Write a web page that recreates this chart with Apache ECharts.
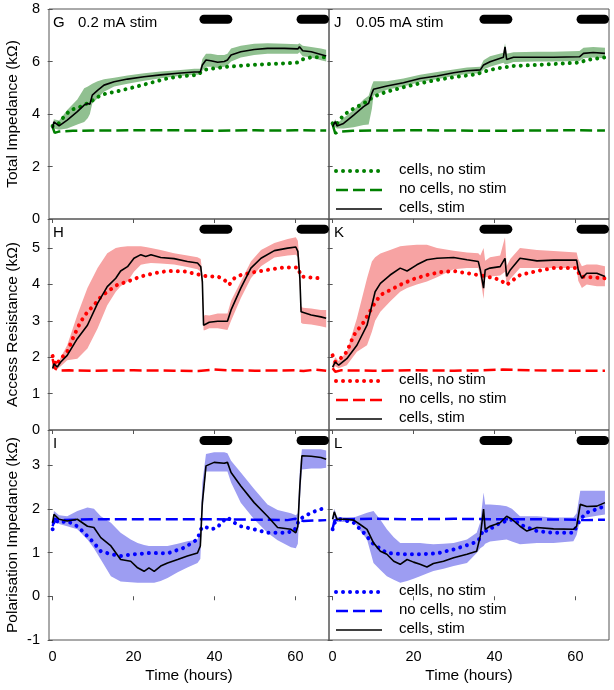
<!DOCTYPE html>
<html>
<head>
<meta charset="utf-8">
<script src="https://cdn.jsdelivr.net/npm/echarts@6/dist/echarts.min.js"></script>
<style>html,body{margin:0;padding:0;background:#fff}#c{width:614px;height:690px}</style>
</head>
<body>
<div id="c"></div>
<script>
// ---------- data ----------
const xTicks = [0, 20, 40, 60];
const stimStarts = [37.4, 61.4];
const stimEnds = [43.3, 67.2];
const legendNames = ['cells, no stim', 'no cells, no stim', 'cells, stim'];

// Panel G (Total impedance, 0.2 mA)
const G_stimT = [0, 0.3, 1.6, 3.6, 6.1, 7.8, 8.7, 9.2, 9.8, 11.1, 12.7, 15.2, 18.5, 22.6, 26.7, 30.9, 35, 36.5, 37, 37.9, 39.1, 40.8, 42.4, 43.2, 44.1, 46.5, 49.8, 53.1, 57.3, 60.6, 61, 61.8, 63.9, 66.3, 67.6];
const G_stimV = [3.45, 3.7, 3.55, 3.77, 4.09, 4.34, 4.4, 4.37, 4.72, 4.9, 5.1, 5.23, 5.33, 5.42, 5.49, 5.55, 5.6, 5.6, 5.87, 6.06, 6.03, 5.97, 6.0, 6.06, 6.25, 6.37, 6.46, 6.5, 6.5, 6.48, 6.56, 6.41, 6.37, 6.27, 6.21];
const G_bandLo = [3.4, 3.45, 3.4, 3.45, 3.6, 3.7, 3.85, 4.0, 4.4, 4.6, 4.85, 5.05, 5.15, 5.27, 5.36, 5.44, 5.5, 5.5, 5.65, 5.8, 5.8, 5.75, 5.8, 5.85, 6.0, 6.15, 6.25, 6.3, 6.3, 6.3, 6.35, 6.2, 6.15, 6.05, 6.0];
const G_bandHi = [3.55, 3.8, 3.75, 4.15, 4.55, 4.98, 5.05, 5.1, 5.15, 5.25, 5.32, 5.38, 5.47, 5.55, 5.62, 5.67, 5.72, 5.72, 6.1, 6.3, 6.3, 6.25, 6.25, 6.3, 6.5, 6.6, 6.68, 6.7, 6.68, 6.66, 6.7, 6.6, 6.55, 6.5, 6.45];
const G_noStimT = [0, 1.2, 2.8, 4.4, 6.9, 9.4, 11.9, 13.5, 15.6, 20.1, 24.3, 28.4, 32.5, 35.8, 37.4, 39.9, 43.2, 49.0, 57.3, 60.6, 61.8, 63.9, 67.6];
const G_noStimV = [3.54, 3.58, 3.9, 4.15, 4.28, 4.47, 4.72, 4.79, 4.85, 5.02, 5.19, 5.36, 5.45, 5.49, 5.68, 5.74, 5.8, 5.87, 5.93, 5.96, 6.08, 6.16, 6.16];
const G_noCellsT = [0, 0.5, 1.5, 5, 10, 20, 30, 40, 45, 50, 55, 60, 67.6];
const G_noCellsV = [3.5, 3.28, 3.33, 3.36, 3.37, 3.38, 3.38, 3.36, 3.37, 3.38, 3.37, 3.38, 3.37];

// Panel J (Total impedance, 0.05 mA)
const J_stimT = [0, 0.66, 1.07, 2.7, 5.2, 7.65, 8.9, 9.7, 10.1, 13.4, 17.5, 21.6, 25.8, 29.9, 33.2, 36.5, 37.3, 38.9, 42.2, 42.6, 43, 44.7, 50.5, 54.6, 61, 62, 64.4, 67.3];
const J_stimV = [3.52, 3.71, 3.54, 3.64, 3.96, 4.28, 4.41, 4.79, 4.94, 5.07, 5.19, 5.35, 5.45, 5.57, 5.65, 5.68, 5.87, 5.99, 6.16, 6.56, 6.08, 6.16, 6.16, 6.16, 6.18, 6.31, 6.34, 6.31];
const J_bandLo = [3.45, 3.5, 3.45, 3.45, 3.5, 3.58, 3.6, 4.2, 4.7, 4.92, 5.05, 5.22, 5.32, 5.45, 5.52, 5.55, 5.7, 5.8, 5.95, 5.9, 5.9, 5.98, 6.0, 6.0, 6.02, 6.12, 6.15, 6.12];
const J_bandHi = [3.6, 3.8, 3.65, 3.85, 4.15, 4.55, 4.7, 5.1, 5.25, 5.25, 5.35, 5.5, 5.6, 5.7, 5.77, 5.8, 6.05, 6.2, 6.33, 6.7, 6.3, 6.35, 6.37, 6.37, 6.4, 6.52, 6.55, 6.52];
const J_noStimT = [0, 0.66, 2.7, 5.2, 7.65, 10.1, 13.4, 17.5, 21.6, 25.8, 29.9, 35.7, 37.3, 40.6, 44.7, 50.5, 61.1, 62.8, 67.3];
const J_noStimV = [3.64, 3.55, 3.96, 4.21, 4.4, 4.66, 4.85, 5.02, 5.17, 5.3, 5.4, 5.52, 5.61, 5.74, 5.83, 5.87, 5.96, 6.06, 6.16];
const J_noCellsT = [0, 0.66, 1.5, 5, 10, 20, 30, 40, 50, 60, 67.3];
const J_noCellsV = [3.6, 3.25, 3.33, 3.36, 3.37, 3.38, 3.37, 3.36, 3.37, 3.38, 3.37];

// Panel H (Access resistance, 0.2 mA)
const H_stimT = [0, 0.33, 1.15, 2, 3.6, 6.1, 8.6, 11.1, 13.5, 15.6, 16.8, 18.5, 20.1, 21.8, 23, 24.3, 26.7, 30, 33.3, 35.8, 36.6, 37, 37.3, 37.6, 38.7, 40.8, 43.2, 44.1, 46.5, 49, 51.5, 54.8, 58.1, 60.1, 60.6, 61.1, 61.4, 61.8, 63.9, 66.3, 67.6];
const H_stimV = [1.69, 1.82, 1.73, 1.87, 2.05, 2.51, 2.88, 3.48, 3.94, 4.17, 4.37, 4.49, 4.72, 4.82, 4.77, 4.82, 4.74, 4.71, 4.63, 4.59, 4.49, 4.08, 2.88, 2.88, 2.96, 2.99, 2.99, 3.3, 3.9, 4.45, 4.72, 4.93, 5.0, 5.03, 4.91, 4.17, 3.25, 3.2, 3.16, 3.11, 3.07];
const H_bandLo = [1.65, 1.72, 1.68, 1.75, 1.92, 1.96, 2.24, 2.79, 3.43, 3.8, 3.95, 4.08, 4.35, 4.54, 4.57, 4.59, 4.58, 4.55, 4.48, 4.42, 4.35, 3.9, 2.74, 2.74, 2.8, 2.8, 2.75, 3.0, 3.62, 4.17, 4.5, 4.74, 4.8, 4.82, 4.75, 3.9, 2.95, 2.92, 2.9, 2.85, 2.82];
const H_bandHi = [1.75, 1.9, 1.8, 2.0, 2.33, 3.16, 3.9, 4.45, 4.86, 5.0, 5.03, 5.05, 5.05, 5.05, 5.03, 5.0, 4.95, 4.86, 4.8, 4.75, 4.7, 4.3, 3.1, 3.16, 3.15, 3.2, 3.2, 3.55, 4.08, 4.63, 4.95, 5.14, 5.25, 5.3, 5.2, 4.5, 3.4, 3.36, 3.34, 3.3, 3.3];
const H_noStimT = [0, 0.8, 2, 3.6, 5.3, 6.9, 8.6, 10.2, 11.9, 13.5, 16, 18.5, 21.8, 25.1, 28.4, 32.5, 36.6, 38.2, 40.8, 42.4, 43.6, 44.9, 46.5, 49.8, 53.1, 57.3, 60.6, 61.4, 63.9, 66.3];
const H_noStimV = [2.03, 1.78, 1.96, 2.15, 2.6, 2.97, 3.25, 3.43, 3.66, 3.8, 3.99, 4.08, 4.22, 4.31, 4.37, 4.36, 4.26, 4.22, 4.22, 4.13, 3.99, 4.17, 4.26, 4.34, 4.4, 4.47, 4.47, 4.22, 4.19, 4.17];
const H_noCellsT = [0, 0.5, 1.5, 4, 10, 20, 30, 36, 40, 44, 50, 60, 62, 65, 67.6];
const H_noCellsV = [1.95, 1.7, 1.63, 1.64, 1.63, 1.64, 1.63, 1.62, 1.66, 1.64, 1.63, 1.64, 1.62, 1.66, 1.63];

// Panel K (Access resistance, 0.05 mA)
const K_stimT = [0, 0.66, 1.5, 3.5, 6, 8.5, 9.7, 10.5, 11.8, 14.2, 16.7, 18.4, 20.8, 23.3, 25.8, 29.9, 33.2, 36, 36.5, 37.3, 37.7, 38.9, 41.4, 42.6, 43, 43.9, 46.3, 50.5, 54.6, 60.3, 60.7, 61.6, 62.8, 65.3, 67.3];
const K_stimV = [1.73, 1.87, 1.78, 1.96, 2.33, 2.88, 3.43, 3.8, 4.03, 4.26, 4.45, 4.37, 4.54, 4.68, 4.72, 4.74, 4.68, 4.63, 4.4, 3.9, 4.4, 4.45, 4.49, 4.72, 4.22, 4.4, 4.72, 4.65, 4.67, 4.67, 4.4, 4.17, 4.31, 4.31, 4.22];
const K_bandLo = [1.65, 1.75, 1.7, 1.78, 2.15, 2.33, 2.7, 3.0, 3.25, 3.53, 3.8, 3.9, 4.0, 4.08, 4.2, 4.42, 4.45, 4.45, 4.2, 3.6, 4.2, 4.22, 4.25, 4.35, 4.0, 4.15, 4.45, 4.45, 4.45, 4.45, 4.1, 3.9, 4.0, 3.95, 3.95];
const K_bandHi = [1.85, 2.0, 1.9, 2.15, 3.07, 4.17, 4.63, 4.75, 4.85, 4.95, 5.05, 5.07, 5.09, 5.09, 5.0, 4.93, 4.88, 4.86, 4.8, 5.0, 4.65, 4.75, 4.8, 5.3, 4.5, 4.7, 5.0, 4.95, 4.92, 4.88, 4.7, 4.5, 4.55, 4.55, 4.5];
const K_noStimT = [0, 0.66, 1.9, 3.5, 5.2, 7.7, 10.1, 11.8, 13.4, 16.7, 20, 23.3, 26.6, 29.9, 33.2, 36, 38.1, 41.4, 43, 44.7, 46.3, 50.5, 54.6, 60.3, 61.2, 67.3];
const K_noStimV = [2.05, 1.87, 1.96, 2.15, 2.6, 2.97, 3.43, 3.71, 3.8, 3.99, 4.15, 4.26, 4.34, 4.37, 4.31, 4.26, 4.22, 4.13, 3.99, 4.13, 4.26, 4.37, 4.45, 4.45, 4.22, 4.17];
const K_noCellsT = [0, 0.66, 2, 10, 20, 30, 37, 42, 50, 60, 67.3];
const K_noCellsV = [1.7, 1.6, 1.64, 1.63, 1.64, 1.63, 1.64, 1.66, 1.64, 1.63, 1.63];

// Panel I (Polarisation impedance, 0.2 mA)
const I_stimT = [0, 0.33, 1.6, 3.6, 6.1, 8.6, 10.2, 11.9, 14.4, 16.8, 19.3, 21, 22.6, 23.8, 25.1, 26.7, 28.4, 30.9, 33.3, 35.8, 36.5, 37, 37.9, 39.9, 42.4, 43.2, 44.1, 46.5, 49.8, 53.1, 55.6, 58.9, 60.1, 60.6, 61.1, 61.6, 63.9, 66.3, 67.6];
const I_stimV = [1.68, 1.87, 1.76, 1.72, 1.76, 1.6, 1.57, 1.34, 1.15, 0.84, 0.8, 0.65, 0.57, 0.65, 0.57, 0.69, 0.76, 0.84, 0.92, 0.99, 1.15, 2.14, 2.98, 3.06, 3.04, 3.06, 2.83, 2.52, 2.14, 1.83, 1.57, 1.53, 1.45, 1.6, 2.52, 3.21, 3.2, 3.17, 3.13];
const I_bandLo = [1.6, 1.75, 1.65, 1.6, 1.53, 1.3, 1.1, 0.84, 0.46, 0.34, 0.32, 0.31, 0.31, 0.31, 0.31, 0.35, 0.42, 0.55, 0.66, 0.76, 0.85, 1.9, 2.85, 2.85, 2.85, 2.85, 2.6, 2.14, 1.76, 1.45, 1.28, 1.12, 1.1, 1.2, 2.2, 2.9, 2.92, 2.92, 2.94];
const I_bandHi = [1.75, 1.95, 1.85, 1.83, 1.95, 2.03, 2.0, 1.83, 1.68, 1.45, 1.3, 1.22, 1.17, 1.15, 1.15, 1.15, 1.15, 1.2, 1.26, 1.3, 1.5, 2.6, 3.25, 3.29, 3.29, 3.27, 3.1, 2.83, 2.45, 2.1, 1.97, 1.9, 1.85, 1.9, 2.9, 3.36, 3.36, 3.36, 3.33];
const I_noStimT = [0, 0.33, 1.6, 3.6, 6.1, 7.8, 10.2, 11.9, 14.4, 16.8, 20.1, 24.3, 28.4, 32.5, 35.8, 36.6, 37.4, 39.1, 40.8, 41.6, 43.2, 44.9, 46.5, 49.8, 53.1, 57.3, 59.7, 61, 63.9, 66.3, 67.6];
const I_noStimV = [1.53, 1.76, 1.68, 1.72, 1.6, 1.45, 1.22, 1.03, 0.96, 0.92, 0.96, 0.99, 0.98, 1.11, 1.3, 1.53, 1.6, 1.53, 1.57, 1.68, 1.8, 1.68, 1.6, 1.53, 1.45, 1.45, 1.49, 1.76, 1.91, 1.99, 2.03];
const I_noCellsT = [0, 0.5, 2, 10, 20, 30, 40, 50, 58, 60, 62, 67.6];
const I_noCellsV = [1.6, 1.77, 1.74, 1.76, 1.76, 1.76, 1.76, 1.75, 1.74, 1.77, 1.72, 1.74];

// Panel L (Polarisation impedance, 0.05 mA)
const L_stimT = [0, 0.4, 1.07, 3.5, 5.2, 6.8, 8.5, 10.1, 11.8, 13.4, 15.1, 16.7, 18.4, 20, 21.6, 23.3, 24.9, 27.4, 29.9, 33.2, 35.6, 36.5, 37.3, 37.7, 38.9, 41.4, 43, 44.3, 46.3, 48, 50.5, 54.6, 59.5, 60.3, 61.2, 62.8, 65.3, 67.3];
const L_stimV = [1.76, 1.93, 1.76, 1.76, 1.74, 1.64, 1.53, 1.22, 1.03, 0.96, 0.8, 0.73, 0.84, 0.78, 0.73, 0.67, 0.75, 0.8, 0.88, 0.96, 1.03, 1.38, 1.99, 1.53, 1.6, 1.68, 1.83, 1.76, 1.6, 1.49, 1.57, 1.54, 1.53, 1.6, 2.1, 2.05, 2.06, 2.14];
const L_bandLo = [1.7, 1.8, 1.7, 1.7, 1.72, 1.5, 1.3, 0.76, 0.6, 0.46, 0.38, 0.31, 0.35, 0.4, 0.46, 0.52, 0.58, 0.63, 0.69, 0.76, 0.99, 1.1, 1.15, 1.2, 1.25, 1.28, 1.3, 1.25, 1.19, 1.2, 1.22, 1.22, 1.26, 1.4, 1.76, 1.8, 1.84, 1.87];
const L_bandHi = [1.82, 2.0, 1.82, 1.8, 1.8, 1.85, 1.91, 1.95, 1.75, 1.53, 1.35, 1.22, 1.22, 1.22, 1.22, 1.2, 1.19, 1.2, 1.22, 1.3, 1.45, 1.7, 2.37, 2.1, 2.1, 2.08, 2.06, 2.0, 1.83, 1.83, 1.83, 1.8, 1.8, 1.9, 2.41, 2.41, 2.41, 2.41];
const L_noStimT = [0, 0.66, 1.9, 5.2, 7.7, 10.1, 13.4, 17.5, 21.6, 25.8, 29.9, 34, 36, 37.3, 38.1, 41.4, 44.7, 46.3, 50.5, 54.6, 59.5, 61.2, 62.8, 67.3];
const L_noStimV = [1.53, 1.72, 1.76, 1.68, 1.45, 1.19, 0.99, 0.96, 0.96, 0.98, 1.07, 1.19, 1.26, 1.53, 1.49, 1.68, 1.76, 1.64, 1.49, 1.45, 1.45, 1.76, 1.91, 2.06];
const L_noCellsT = [0, 0.5, 2, 10, 20, 30, 40, 50, 60, 62, 67.3];
const L_noCellsV = [1.55, 1.74, 1.76, 1.77, 1.76, 1.77, 1.76, 1.76, 1.75, 1.74, 1.75];

// ---------- layout / styles ----------
const FONT = '"Liberation Sans", Arial, sans-serif';
const rows = [
  {top: 9, height: 210, min: 0, max: 8, interval: 2, barY: 7.61, name: 'Total Impedance (kΩ)',
   color: '#008000', band: '#90c090'},
  {top: 219, height: 211, min: 0, max: 5.8, interval: 1, barY: 5.52, name: 'Access Resistance (kΩ)',
   color: '#ff0000', band: '#f7a3a3'},
  {top: 430, height: 210, min: -1, max: 3.8, interval: 1, barY: 3.56, name: 'Polarisation Impedance (kΩ)',
   color: '#0000ff', band: '#9d9df2'}
];
const cols = [{left: 49, width: 280}, {left: 329, width: 280}];
const panelData = [
  [ {stimT:G_stimT, stimV:G_stimV, lo:G_bandLo, hi:G_bandHi, nsT:G_noStimT, nsV:G_noStimV, ncT:G_noCellsT, ncV:G_noCellsV},
    {stimT:J_stimT, stimV:J_stimV, lo:J_bandLo, hi:J_bandHi, nsT:J_noStimT, nsV:J_noStimV, ncT:J_noCellsT, ncV:J_noCellsV} ],
  [ {stimT:H_stimT, stimV:H_stimV, lo:H_bandLo, hi:H_bandHi, nsT:H_noStimT, nsV:H_noStimV, ncT:H_noCellsT, ncV:H_noCellsV},
    {stimT:K_stimT, stimV:K_stimV, lo:K_bandLo, hi:K_bandHi, nsT:K_noStimT, nsV:K_noStimV, ncT:K_noCellsT, ncV:K_noCellsV} ],
  [ {stimT:I_stimT, stimV:I_stimV, lo:I_bandLo, hi:I_bandHi, nsT:I_noStimT, nsV:I_noStimV, ncT:I_noCellsT, ncV:I_noCellsV},
    {stimT:L_stimT, stimV:L_stimV, lo:L_bandLo, hi:L_bandHi, nsT:L_noStimT, nsV:L_noStimV, ncT:L_noCellsT, ncV:L_noCellsV} ]
];
const panelLetters = [['G', 'J'], ['H', 'K'], ['I', 'L']];
const panelTitles = ['0.2 mA stim', '0.05 mA stim'];

const DOT = [0.01, 7];
const DASH = [12, 5];

const zip = (t, v) => t.map((x, i) => [x, v[i]]);

const grids = [], xAxes = [], yAxes = [], series = [], graphics = [];
let gi = 0;
rows.forEach((r, ri) => {
  cols.forEach((c, ci) => {
    const d = panelData[ri][ci];
    grids.push({left: c.left, top: r.top, width: c.width, height: r.height,
      show: true, borderColor: '#555', borderWidth: 1, backgroundColor: 'transparent'});
    const bottom = ri === rows.length - 1;
    xAxes.push({type: 'value', gridIndex: gi, min: -0.9, max: 68.3,
      axisLine: {show: false}, splitLine: {show: false},
      axisTick: {show: true, inside: false, length: 4, lineStyle: {color: '#555'}, customValues: xTicks},
      axisLabel: {show: bottom, customValues: xTicks, fontSize: 14.5, color: '#000', fontFamily: FONT, margin: 9},
      name: bottom ? 'Time (hours)' : '', nameLocation: 'middle', nameGap: 28,
      nameTextStyle: {fontSize: 15.5, color: '#000', fontFamily: FONT}});
    yAxes.push({type: 'value', gridIndex: gi, min: r.min, max: r.max, interval: r.interval,
      axisLine: {show: false}, splitLine: {show: false},
      axisTick: {show: true, inside: false, length: 5, lineStyle: {color: '#555'}},
      axisLabel: {show: ci === 0, fontSize: 14.5, color: '#000', fontFamily: FONT, margin: 9,
        showMaxLabel: r.max === 8},
      name: ci === 0 ? r.name : '', nameLocation: 'middle', nameGap: 28,
      nameTextStyle: {fontSize: 15.5, color: '#000', fontFamily: FONT}});

    const g = gi;
    // shaded band (cells, stim spread)
    series.push({type: 'custom', xAxisIndex: g, yAxisIndex: g, silent: true, z: 1, clip: true,
      data: [[d.stimT[0], d.lo[0]]],
      renderItem: (params, api) => {
        const pts = [];
        for (let i = 0; i < d.stimT.length; i++) pts.push(api.coord([d.stimT[i], d.hi[i]]));
        for (let i = d.stimT.length - 1; i >= 0; i--) pts.push(api.coord([d.stimT[i], d.lo[i]]));
        return {type: 'polygon', shape: {points: pts}, style: {fill: r.band}};
      }});
    // no cells, no stim (dashed)
    series.push({type: 'line', name: legendNames[1], xAxisIndex: g, yAxisIndex: g, z: 2,
      data: zip(d.ncT, d.ncV), showSymbol: false, symbol: 'none', silent: true,
      lineStyle: {color: r.color, width: 2.5, type: DASH}});
    // cells, no stim (dotted)
    series.push({type: 'line', name: legendNames[0], xAxisIndex: g, yAxisIndex: g, z: 3,
      data: zip(d.nsT, d.nsV), showSymbol: false, symbol: 'none', silent: true,
      lineStyle: {color: r.color, width: 4, type: DOT, cap: 'round'}});
    // cells, stim (black)
    series.push({type: 'line', name: legendNames[2], xAxisIndex: g, yAxisIndex: g, z: 4,
      data: zip(d.stimT, d.stimV), showSymbol: false, symbol: 'none', silent: true,
      lineStyle: {color: '#000', width: 1.6}});
    // stimulation bars
    stimStarts.forEach((s, k) => {
      series.push({type: 'line', xAxisIndex: g, yAxisIndex: g, z: 5, clip: true,
        data: [[s, r.barY], [stimEnds[k], r.barY]], showSymbol: false, symbol: 'none', silent: true,
        lineStyle: {color: '#000', width: 9, cap: 'round'}});
    });

    // panel letters and titles
    const letterX = c.left + (ci === 0 ? 4 : 5);
    graphics.push({type: 'text', left: letterX, top: r.top + 6,
      style: {text: panelLetters[ri][ci], font: '15px ' + FONT, fill: '#000'}});
    if (ri === 0) {
      graphics.push({type: 'text', left: c.left + (ci === 0 ? 29 : 27), top: r.top + 6,
        style: {text: panelTitles[ci], font: '15px ' + FONT, fill: '#000'}});
    }
    // legends in right column
    if (ci === 1) {
      const styles = [
        {stroke: r.color, lineWidth: 4, lineDash: DOT, lineCap: 'round'},
        {stroke: r.color, lineWidth: 2.5, lineDash: DASH},
        {stroke: '#000', lineWidth: 1.6}
      ];
      [162, 181, 200].forEach((dy, k) => {
        const y = r.top + dy;
        graphics.push({type: 'line', shape: {x1: 336, y1: y, x2: 382, y2: y}, style: styles[k], z: 10});
        graphics.push({type: 'text', left: 399, top: y - 9,
          style: {text: legendNames[k], font: '15px ' + FONT, fill: '#000'}, z: 10});
      });
    }
    gi++;
  });
});

const chart = echarts.init(document.getElementById('c'), null, {renderer: 'canvas'});
chart.setOption({
  animation: false,
  backgroundColor: '#fff',
  grid: grids, xAxis: xAxes, yAxis: yAxes, series: series, graphic: graphics
});
</script>
</body>
</html>
